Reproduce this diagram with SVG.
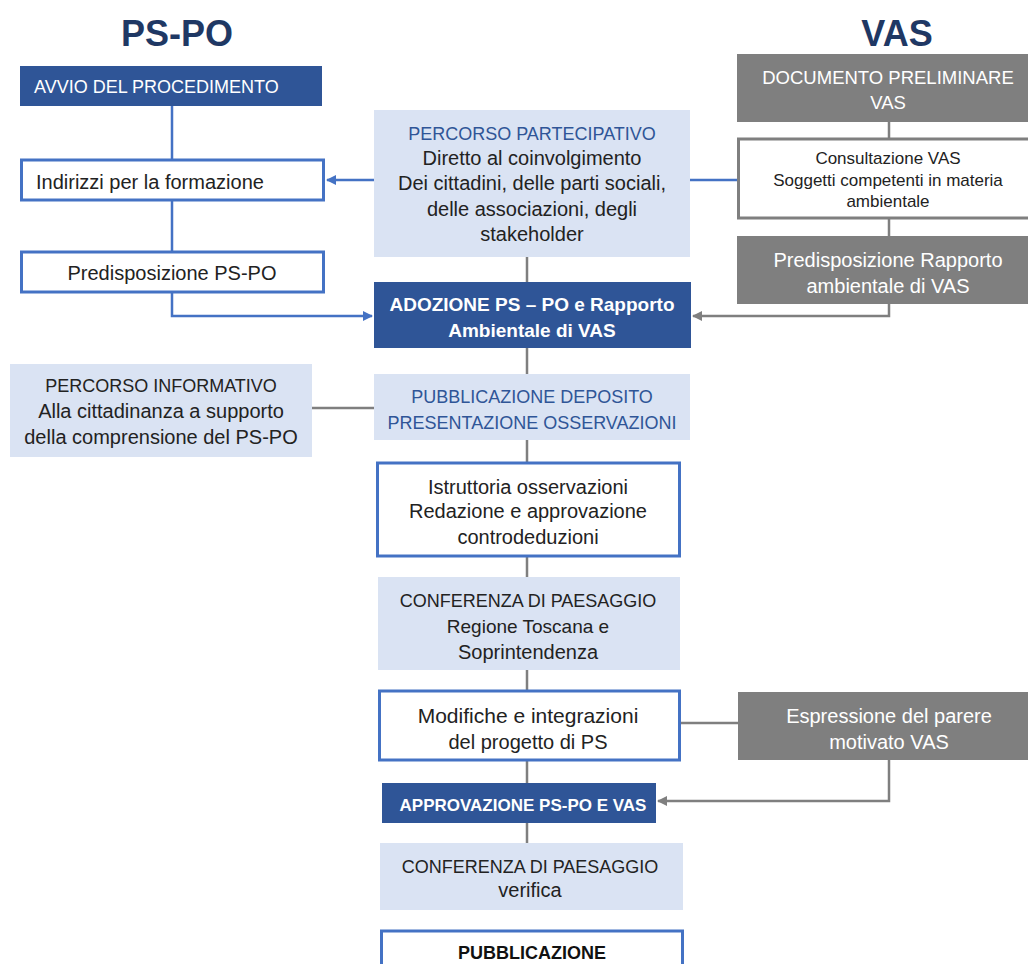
<svg xmlns="http://www.w3.org/2000/svg" width="1028" height="964" viewBox="0 0 1028 964">
<defs>
<marker id="ab" viewBox="0 0 10 10" refX="9" refY="5" markerWidth="4" markerHeight="4" orient="auto"><path d="M0,0 L10,5 L0,10 z" fill="#4472C4"/></marker>
<marker id="ag" viewBox="0 0 10 10" refX="9" refY="5" markerWidth="4" markerHeight="4" orient="auto"><path d="M0,0 L10,5 L0,10 z" fill="#7F7F7F"/></marker>
</defs>
<style>
text{font-family:"Liberation Sans",Arial,sans-serif;font-size:18px;text-anchor:middle;fill:#222}
.l{font-size:20px}
.title{font-size:36px;font-weight:bold;fill:#1F3864}
.dark{fill:#2F5597}
.gray{fill:#7F7F7F}
.light{fill:#DAE3F3}
.wb{fill:#fff;stroke:#4472C4;stroke-width:3}
.wg{fill:#fff;stroke:#7F7F7F;stroke-width:3}
.wt{fill:#fff}
.bt{fill:#fff;font-weight:bold}
.blt{fill:#2F5597}
.sm{font-size:17px}
.lb{fill:none;stroke:#4472C4;stroke-width:2.5}
.lg{fill:none;stroke:#7F7F7F;stroke-width:2.5}
</style>
<rect width="1028" height="964" fill="#fff"/>
<text class="title" x="177" y="46">PS-PO</text>
<text class="title" x="897" y="46">VAS</text>
<g id="connectors">
<path class="lb" d="M172,106 V160 M172,201 V252"/>
<path class="lb" d="M172,292 V316 H372" marker-end="url(#ab)"/>
<path class="lb" d="M374,180 H327" marker-end="url(#ab)"/>
<path class="lb" d="M690,180 H737"/>
<path class="lg" d="M527,257 V282 M527,348 V374 M527,440 V462 M527,556 V577 M527,670 V690 M527,760 V783 M527,823 V843"/>
<path class="lg" d="M889,122 V138 M889,218 V236"/>
<path class="lg" d="M889,304 V316 H693" marker-end="url(#ag)"/>
<path class="lg" d="M312,408 H374"/>
<path class="lg" d="M680,723 H738"/>
<path class="lg" d="M889,760 V801 H658" marker-end="url(#ag)"/>
</g>
<g id="avvio"><rect class="dark" x="20" y="66" width="302" height="40"/><text class="wt" x="34" y="92.5" style="text-anchor:start">AVVIO DEL PROCEDIMENTO</text></g>
<g id="indirizzi"><rect class="wb" x="21.5" y="160" width="302" height="40"/><text class="l" x="36" y="189" style="text-anchor:start">Indirizzi per la formazione</text></g>
<g id="predisposizione"><rect class="wb" x="21.5" y="252" width="302" height="40"/><text class="l" x="172" y="280">Predisposizione PS-PO</text></g>
<g id="partecipativo"><rect class="light" x="374" y="110" width="316" height="147"/>
<text class="blt" x="532" y="139.5">PERCORSO PARTECIPATIVO</text>
<text class="l" x="532" y="165">Diretto al coinvolgimento</text>
<text class="l" x="532" y="190">Dei cittadini, delle parti sociali,</text>
<text class="l" x="532" y="216">delle associazioni, degli</text>
<text class="l" x="532" y="241">stakeholder</text></g>
<g id="adozione"><rect class="dark" x="374" y="282" width="317" height="66"/>
<text class="bt" x="532" y="311" style="font-size:19px">ADOZIONE PS – PO e Rapporto</text>
<text class="bt" x="532" y="337" style="font-size:19px">Ambientale di VAS</text></g>
<g id="docprel"><rect class="gray" x="737" y="54" width="295" height="68"/>
<text class="wt" x="888" y="84" style="font-size:18.5px">DOCUMENTO PRELIMINARE</text>
<text class="wt" x="888" y="109" style="font-size:18.5px">VAS</text></g>
<g id="consultazione"><rect class="wg" x="738.5" y="139" width="295" height="79"/>
<text class="sm" x="888" y="164">Consultazione VAS</text>
<text class="sm" x="888" y="186">Soggetti competenti in materia</text>
<text class="sm" x="888" y="207">ambientale</text></g>
<g id="rapporto"><rect class="gray" x="737" y="236" width="295" height="68"/>
<text class="wt l" x="888" y="267">Predisposizione Rapporto</text>
<text class="wt l" x="888" y="293">ambientale di VAS</text></g>
<g id="informativo"><rect class="light" x="10" y="364" width="302" height="93"/>
<text x="161" y="391.5">PERCORSO INFORMATIVO</text>
<text class="l" x="161" y="418">Alla cittadinanza a supporto</text>
<text class="l" x="161" y="444">della comprensione del PS-PO</text></g>
<g id="deposito"><rect class="light" x="374" y="374" width="316" height="66"/>
<text class="blt" x="532" y="402.5">PUBBLICAZIONE DEPOSITO</text>
<text class="blt" x="532" y="428.5">PRESENTAZIONE OSSERVAZIONI</text></g>
<g id="istruttoria"><rect class="wb" x="377.5" y="463" width="302" height="93"/>
<text class="l" x="528" y="494">Istruttoria osservazioni</text>
<text class="l" x="528" y="518">Redazione e approvazione</text>
<text class="l" x="528" y="544">controdeduzioni</text></g>
<g id="conferenza1"><rect class="light" x="378" y="577" width="302" height="93"/>
<text x="528" y="606.5">CONFERENZA DI PAESAGGIO</text>
<text class="l" x="528" y="633" style="font-size:19px">Regione Toscana e</text>
<text class="l" x="528" y="659">Soprintendenza</text></g>
<g id="modifiche"><rect class="wb" x="379.5" y="691" width="300" height="69"/>
<text class="l" x="528" y="723" style="font-size:21px">Modifiche e integrazioni</text>
<text class="l" x="528" y="749">del progetto di PS</text></g>
<g id="parere"><rect class="gray" x="738" y="692" width="294" height="68"/>
<text class="wt l" x="889" y="723">Espressione del parere</text>
<text class="wt l" x="889" y="749">motivato VAS</text></g>
<g id="approvazione"><rect class="dark" x="382" y="783" width="274" height="40"/>
<text class="bt" x="523" y="811" style="font-size:17px">APPROVAZIONE PS-PO E VAS</text></g>
<g id="conferenza2"><rect class="light" x="380" y="843" width="303" height="67"/>
<text x="530" y="872.5">CONFERENZA DI PAESAGGIO</text>
<text class="l" x="530" y="897">verifica</text></g>
<g id="pubblicazione"><rect class="wb" x="381.5" y="931" width="301" height="40"/>
<text x="532" y="958.5" style="font-weight:bold;fill:#111">PUBBLICAZIONE</text></g>
</svg>
